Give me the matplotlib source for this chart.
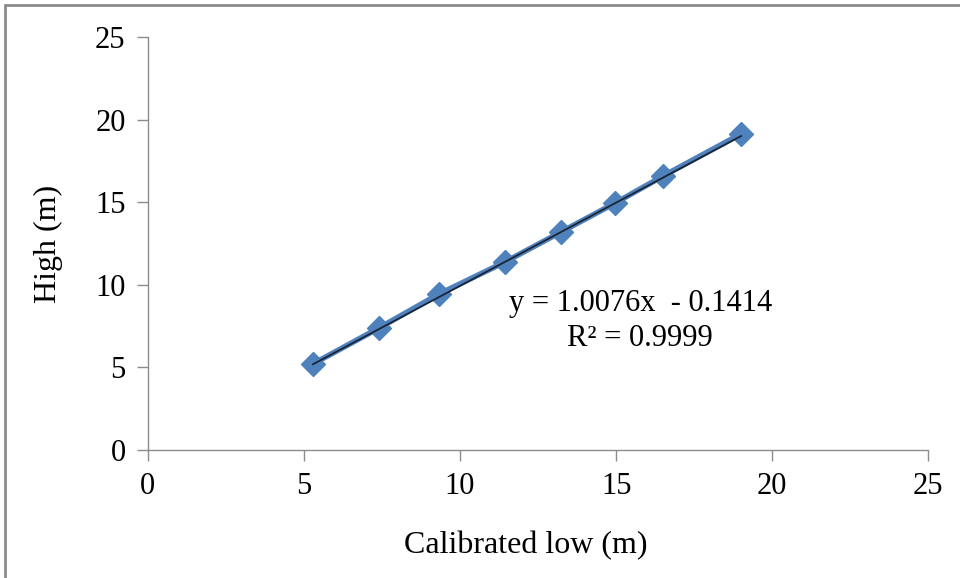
import numpy as np
import matplotlib.pyplot as plt
from matplotlib.patches import Rectangle

# data
calibrated_low = [5.29, 7.40, 9.33, 11.44, 13.24, 14.97, 16.51, 19.00]
high = [5.21, 7.38, 9.44, 11.38, 13.20, 14.95, 16.59, 19.13]
slope = 1.0076
intercept = -0.1414
r2 = 0.9999
ticks = [0, 5, 10, 15, 20, 25]

plt.rcParams['font.family'] = ['Liberation Serif', 'DejaVu Serif']

fig = plt.figure(figsize=(9.6, 5.78), dpi=100)
ax = fig.add_axes([0.154, 0.2215, 0.813, 0.7145])

# outer frame (left and top visible)
fig.patches.append(Rectangle((5 / 960, -0.05), 1.2, (578 - 5) / 578 + 0.05,
                             transform=fig.transFigure, fill=False,
                             edgecolor='#8c8c8c', linewidth=2))

ax.plot(calibrated_low, high, color='#4F81BD', linewidth=4,
        marker='D', markersize=12, markerfacecolor='#4F81BD',
        markeredgecolor='#4F81BD', zorder=2)

xs = np.array([min(calibrated_low), max(calibrated_low)])
ax.plot(xs, slope * xs + intercept, color='#1a2433', linewidth=1.3, zorder=3)

ax.text(15.77, 7.8, 'y = %.4fx  - %.4f\nR² = %.4f' % (slope, -intercept, r2),
        ha='center', va='center', fontsize=22, linespacing=1.25)

ax.set_xlim(0, 25)
ax.set_ylim(0, 25)
ax.set_xticks(ticks)
ax.set_yticks(ticks)
ax.tick_params(labelsize=22, colors='black', length=8, width=1, pad=8)
ax.tick_params(axis='both', color='#8c8c8c')
for s in ['top', 'right']:
    ax.spines[s].set_visible(False)
for s in ['left', 'bottom']:
    ax.spines[s].set_color('#8c8c8c')
    ax.spines[s].set_linewidth(1)

ax.set_xlabel('Calibrated low (m)', fontsize=23)
ax.xaxis.set_label_coords(0.484, -0.197)
ax.set_ylabel('High (m)', fontsize=23, labelpad=23)

fig.savefig('out.png', dpi=100)
